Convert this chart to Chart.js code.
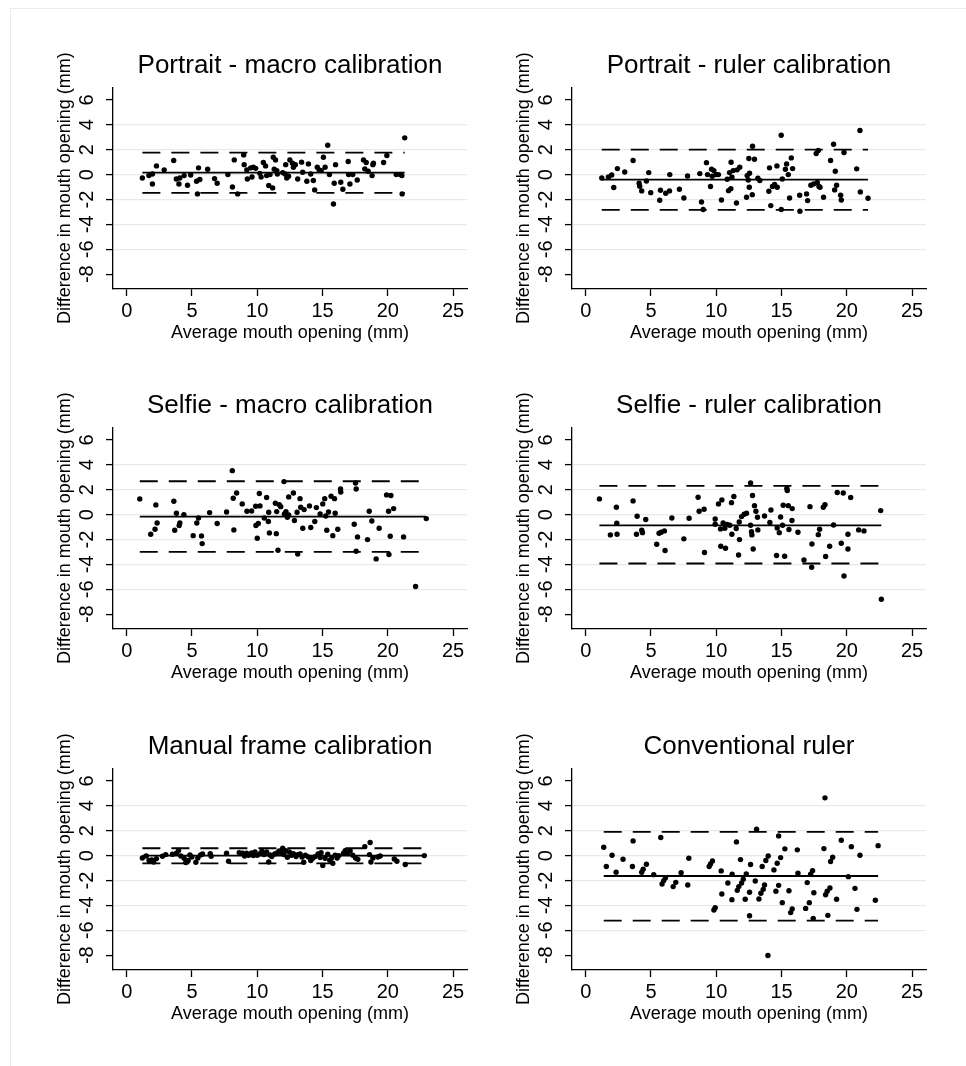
<!DOCTYPE html>
<html>
<head>
<meta charset="utf-8">
<script src="https://cdn.jsdelivr.net/npm/chart.js@4.4.1/dist/chart.umd.min.js"></script>
<style>
  html, body { margin: 0; padding: 0; background: #fff; }
  #page { position: relative; width: 966px; height: 1066px; overflow: hidden; }
  #frame { position: absolute; left: 10px; top: 8px; right: -10px; bottom: -10px;
           border-left: 1.5px solid #e5ecf0; border-top: 1.5px solid #e5ecf0; }
  canvas { position: absolute; }
</style>
</head>
<body>
<div id="page">
  <div id="frame"></div>
  <canvas id="c0" width="455" height="299" style="left:25px;top:50px"></canvas>
  <canvas id="c1" width="455" height="299" style="left:484px;top:50px"></canvas>
  <canvas id="c2" width="455" height="299" style="left:25px;top:390px"></canvas>
  <canvas id="c3" width="455" height="299" style="left:484px;top:390px"></canvas>
  <canvas id="c4" width="455" height="299" style="left:25px;top:731px"></canvas>
  <canvas id="c5" width="455" height="299" style="left:484px;top:731px"></canvas>
</div>
<script>
// [average mouth opening, difference]
const portraitMacro = [
  [1.2,-0.27],[1.7,-0.08],[1.97,0.05],[1.97,-0.75],[2.28,0.7],[2.87,0.38],[3.6,1.13],[3.8,-0.35],[4.0,-0.75],[4.07,-0.27],
  [4.4,-0.08],[4.66,-0.86],[4.9,-0.03],[5.35,-0.54],[5.42,-1.55],[5.5,0.54],[5.6,-0.4],[6.2,0.43],[6.73,-0.32],[6.93,-0.7],
  [7.75,0],[8.1,-1.0],[8.24,1.18],[8.5,-1.55],[8.96,1.58],[9.0,0.8],[9.2,0.38],[9.24,-0.35],[9.5,0.54],[9.6,-0.19],
  [9.7,0.59],[9.88,0.5],[10.2,0.1],[10.3,-0.2],[10.47,0.97],[10.64,0.7],[10.72,-0.08],[10.88,-0.88],[10.98,0],[11.18,-1.07],
  [11.23,1.39],[11.4,1.18],[11.3,0.43],[11.5,0.32],[11.54,0.05],[11.95,0.16],[12.13,0.05],[12.18,0.8],[12.26,-0.27],[12.4,-0.13],
  [12.5,1.18],[12.7,0.91],[12.77,0.59],[12.92,0.8],[13.1,-0.35],[13.4,1.0],[13.48,0.19],[13.8,-0.54],[13.92,0.86],[14.1,0.05],
  [14.3,-0.48],[14.4,-1.23],[14.6,0.59],[14.74,0.38],[14.9,0.32],[15.07,1.39],[15.2,0.59],[15.4,2.36],[15.53,0],[15.84,-2.36],
  [15.9,-0.7],[16.0,0.8],[16.4,-0.62],[16.56,-1.18],[16.97,1.05],[17.0,0],[17.1,-0.75],[17.32,0],[17.66,-0.43],[18.14,1.18],
  [18.24,0.46],[18.35,0.97],[18.5,0.27],[18.8,-0.08],[18.86,0.8],[18.9,0.91],[19.68,0.97],[19.93,1.53],[20.65,0],[20.96,0],
  [21.1,-1.55],[21.3,2.95],[21.08,-0.08]
];
const portraitRuler = [
  [1.23,-0.27],[1.74,-0.19],[1.99,-0.03],[2.15,-1.04],[2.43,0.48],[2.99,0.21],[3.63,1.13],[4.09,-0.7],[4.14,-0.94],[4.29,-1.31],
  [4.65,-0.51],[4.83,0.16],[4.98,-1.45],[5.67,-2.06],[5.73,-1.26],[6.13,-1.5],[6.42,-1.31],[6.44,0],[7.18,-1.18],[7.52,-1.88],
  [7.8,-0.11],[8.74,0.08],[8.87,-2.2],[9.0,-2.81],[9.25,0.96],[9.33,0],[9.56,-0.96],[9.64,0.43],[9.69,-0.13],[9.82,0.32],
  [9.99,0],[10.17,0],[10.4,-2.04],[10.84,-0.38],[10.94,-1.29],[11.02,0.16],[11.12,-1.13],[11.14,0.99],[11.2,-0.21],[11.3,0.32],
  [11.55,-2.28],[11.6,0.38],[11.8,0.59],[12.32,-1.82],[12.37,-0.08],[12.45,-0.43],[12.5,1.29],[12.53,-1.02],[12.55,0.11],[12.76,-1.61],
  [12.78,2.28],[12.93,1.23],[13.19,-0.29],[13.34,-0.48],[14.03,-1.34],[14.08,0.54],[14.18,-2.49],[14.31,-0.96],[14.47,-0.8],[14.65,0.7],
  [14.67,-1.02],[14.98,3.16],[14.98,-2.81],[15.06,-0.35],[15.3,0.43],[15.39,0.86],[15.52,0],[15.62,-1.88],[15.75,1.34],[15.85,0.48],
  [16.39,-1.66],[16.41,-2.95],[16.92,-1.55],[17.0,-2.09],[17.25,-0.86],[17.46,-0.75],[17.66,1.69],[17.74,-0.64],[17.82,1.93],[17.87,-0.96],
  [17.95,-1.02],[18.22,-1.82],[18.76,1.13],[18.99,2.44],[19.07,-1.23],[19.12,0.27],[19.22,-0.86],[19.53,-1.66],[19.58,-2.04],[19.79,1.77],
  [20.76,0.46],[21.01,3.54],[21.04,-1.39],[21.63,-1.9]
];
const selfieMacro = [
  [1.0,1.26],[1.84,-1.58],[2.17,-1.18],[2.23,0.78],[2.33,-0.67],[3.61,1.07],[3.68,-1.26],[3.81,0.11],[4.02,-0.88],[4.07,-0.67],
  [4.38,0],[5.09,-1.69],[5.37,-0.67],[5.5,-0.27],[5.73,-1.71],[5.78,-2.33],[6.35,0.16],[6.93,-0.72],[7.65,0.21],[8.09,3.53],
  [8.16,1.31],[8.21,-1.23],[8.42,1.74],[8.85,0.86],[9.21,0.27],[9.57,0.29],[9.88,0.67],[9.9,-0.88],[10.0,-1.9],[10.08,-0.72],
  [10.16,1.69],[10.21,0.7],[10.54,-0.27],[10.72,1.37],[10.85,-0.56],[10.88,0.19],[10.93,-1.47],[11.39,0.91],[11.46,-1.53],[11.49,0.24],
  [11.59,-2.86],[11.69,0.8],[11.8,0.64],[12.05,2.65],[12.08,0.05],[12.2,0.24],[12.31,-0.21],[12.41,-0.03],[12.41,1.42],[12.77,1.74],
  [12.85,-0.48],[13.05,0.19],[13.1,-3.16],[13.28,1.28],[13.33,0.59],[13.49,-1.1],[13.59,0.4],[14.0,0.7],[14.1,-1.04],[14.41,-0.56],
  [14.53,0.56],[14.82,0.05],[15.02,0.86],[15.17,1.28],[15.25,-0.11],[15.33,-1.26],[15.46,0.21],[15.66,1.47],[15.79,-1.69],[15.92,1.28],
  [15.97,0.11],[16.17,-1.18],[16.38,2.06],[16.4,1.82],[17.43,-0.78],[17.53,2.54],[17.58,2.06],[17.58,-2.94],[17.68,-1.79],[18.45,-2.01],
  [18.58,0.27],[18.78,-0.51],[19.11,-3.56],[19.34,-1.1],[19.91,1.58],[20.06,0.27],[20.09,-3.21],[20.19,-1.74],[20.24,1.53],[20.45,0.48],
  [21.21,-1.79],[22.13,-5.78],[22.95,-0.32]
];
const selfieRuler = [
  [1.05,1.26],[1.89,-1.63],[2.35,0.59],[2.38,-0.7],[2.4,-1.58],[3.63,1.1],[3.94,-0.13],[3.89,-1.58],[4.29,-1.26],[4.35,-1.45],
  [4.6,-0.4],[5.44,-2.38],[5.62,-1.5],[5.78,-1.42],[6.03,-1.31],[6.08,-2.89],[6.6,-0.27],[7.52,-1.95],[7.92,-0.29],[8.61,1.39],
  [8.69,0.27],[9.1,-3.05],[9.07,0.43],[9.92,-0.35],[9.92,-0.78],[10.17,0.86],[10.33,-1.15],[10.35,-2.54],[10.43,1.18],[10.53,-0.67],
  [10.66,-1.1],[10.71,-2.7],[10.84,-0.8],[11.04,-0.86],[11.17,0.96],[11.2,-1.58],[11.35,1.45],[11.53,-1.12],[11.71,-3.24],[11.76,-0.59],
  [11.78,-2.01],[11.94,-0.16],[12.14,0.03],[12.32,0.11],[12.63,2.54],[12.63,-0.86],[12.7,-1.37],[12.73,-1.63],[12.78,1.53],[12.83,-2.76],
  [12.93,0.72],[13.04,0.27],[13.16,-0.21],[13.19,-1.23],[13.7,-0.11],[14.11,-0.64],[14.19,0.37],[14.62,-3.29],[14.67,-1.07],[14.83,-1.45],
  [14.93,-0.19],[15.08,-0.86],[15.13,0.75],[15.24,-3.35],[15.41,2.11],[15.44,1.93],[15.52,0.72],[15.57,-1.2],[15.8,-0.48],[15.82,0.48],
  [16.26,-1.42],[16.72,-3.64],[17.18,0.64],[17.31,-4.23],[17.33,-2.36],[17.82,-1.61],[17.92,-1.18],[18.2,0.59],[18.33,0.8],[18.38,-3.37],
  [18.69,-2.54],[18.99,-0.83],[19.27,1.77],[19.58,-2.3],[19.73,1.74],[19.79,-4.93],[20.09,-1.58],[20.09,-2.76],[20.3,1.37],[20.91,-1.23],
  [21.32,-1.31],[22.6,0.32],[22.65,-6.8]
];
const manualFrame = [
  [1.2,-0.19],[1.5,-0.03],[1.71,-0.4],[1.92,-0.35],[2.07,-0.51],[2.28,-0.24],[2.74,-0.05],[2.99,0.08],[3.5,0.11],[3.81,0.19],
  [3.97,0.4],[4.15,-0.03],[4.4,-0.21],[4.53,-0.56],[4.71,-0.4],[4.84,0.05],[4.99,-0.11],[5.3,-0.54],[5.45,-0.19],[5.66,0.05],
  [5.81,0.13],[6.4,0.16],[6.47,-0.05],[7.65,0.19],[7.8,-0.46],[8.62,0.24],[8.88,0.19],[9.03,-0.03],[9.19,0.19],[9.34,0.03],
  [9.57,0.21],[9.7,0],[9.83,0.29],[10.0,0.03],[10.21,0.16],[10.36,0.35],[10.52,0.08],[10.72,0.29],[10.88,-0.51],[10.98,0.05],
  [11.11,-0.08],[11.34,0.13],[11.49,0.19],[11.67,0.38],[11.82,0.24],[11.95,0.59],[12.05,0.08],[12.18,0.4],[12.31,-0.13],[12.46,0.29],
  [12.62,0.03],[12.77,0.16],[12.97,-0.08],[13.1,0.08],[13.28,0.13],[13.43,-0.11],[13.56,-0.54],[13.69,0.03],[13.92,-0.11],[14.1,-0.4],
  [14.25,-0.21],[14.43,-0.08],[14.66,0.13],[14.82,-0.16],[14.89,0.24],[15.02,-0.8],[15.2,-0.21],[15.4,0.11],[15.56,-0.38],[15.69,-0.19],
  [15.79,-0.62],[15.97,0.03],[16.12,-0.19],[16.25,0],[16.61,0.19],[16.74,0.4],[16.91,0.16],[17.12,0.38],[17.32,0.03],[17.53,-0.19],
  [17.71,-0.3],[18.24,0.72],[18.65,1.05],[18.6,0.08],[18.71,-0.51],[18.86,-0.19],[19.24,-0.11],[19.42,-0.03],[20.5,-0.27],[20.7,-0.46],
  [21.34,-0.72],[22.8,0]
];
const conventionalRuler = [
  [1.38,0.67],[1.58,-0.88],[2.02,0.03],[2.33,-1.34],[2.86,-0.29],[3.58,-0.88],[3.63,1.18],[4.29,-1.34],[4.4,-1.1],[4.65,-0.7],
  [5.21,-1.53],[5.75,1.45],[5.85,-2.28],[5.98,-2.01],[6.11,-1.77],[6.7,-2.49],[6.9,-2.15],[7.31,-1.37],[7.82,-2.36],[7.9,-0.21],
  [9.46,-0.88],[9.56,-0.67],[9.71,-0.43],[9.82,-4.37],[9.92,-4.18],[10.38,-1.23],[10.43,-3.08],[10.89,-2.2],[11.22,-1.5],[11.2,-3.54],
  [11.55,1.1],[11.61,-2.79],[11.73,-2.49],[11.86,-0.32],[11.94,-2.2],[12.07,-1.9],[12.22,-3.51],[12.3,-1.47],[12.55,-2.95],[12.55,-4.83],
  [12.63,-0.72],[12.99,-2.04],[13.09,2.12],[13.27,-3.49],[13.42,-3.03],[13.52,-0.88],[13.6,-2.71],[13.7,-2.36],[13.8,-0.4],[13.96,-8.02],
  [13.98,-0.03],[14.42,-1.15],[14.57,-2.87],[14.67,-0.62],[14.78,1.58],[14.78,-2.39],[14.93,-0.16],[15.06,-3.78],[15.26,0.54],[15.57,-2.82],
  [15.7,-4.58],[15.82,-4.29],[16.21,0.46],[16.26,-1.42],[16.85,-4.24],[16.97,-2.17],[17.13,-3.78],[17.23,-1.5],[17.38,-1.21],[17.43,-5.04],
  [17.48,-2.98],[18.25,0.56],[18.33,4.64],[18.38,-3.14],[18.5,-2.87],[18.55,-4.8],[18.71,-2.6],[18.76,-0.48],[18.92,-0.13],[19.22,-3.51],
  [19.58,1.23],[20.12,-1.69],[20.35,0.72],[20.63,-2.63],[20.78,-4.32],[21.01,0.03],[22.19,-3.59],[22.4,0.8]
];

const panelTitles = ['Portrait - macro calibration', 'Portrait - ruler calibration',
  'Selfie - macro calibration', 'Selfie - ruler calibration',
  'Manual frame calibration', 'Conventional ruler'];
const panelData = [portraitMacro, portraitRuler, selfieMacro, selfieRuler, manualFrame, conventionalRuler];
const meanDiff   = [0.16, -0.40, -0.16, -0.86, 0.00, -1.64];
const upperLimit = [1.77, 2.00, 2.68, 2.30, 0.59, 1.90];
const lowerLimit = [-1.47, -2.84, -3.00, -3.93, -0.62, -5.23];
const xTicks = [0, 5, 10, 15, 20, 25];
const yTicks = [-8, -6, -4, -2, 0, 2, 4, 6];

Chart.defaults.font.family = '"Liberation Sans", Arial, sans-serif';
Chart.defaults.color = '#000';

function hline(pts, value, dash) {
  const xs = pts.map(p => p[0]);
  return {
    data: [{x: Math.min(...xs), y: value}, {x: Math.max(...xs), y: value}],
    showLine: true, pointRadius: 0, borderColor: '#000', borderWidth: 1.8,
    borderDash: dash, fill: false
  };
}

function buildPanel(i) {
  const pts = panelData[i];
  const ctx = document.getElementById('c' + i).getContext('2d');
  new Chart(ctx, {
    type: 'scatter',
    data: {
      datasets: [
        { data: pts.map(p => ({x: p[0], y: p[1]})), pointRadius: 2.7,
          backgroundColor: '#000', borderWidth: 0 },
        hline(pts, meanDiff[i], []),
        hline(pts, upperLimit[i], [18, 11]),
        hline(pts, lowerLimit[i], [18, 11])
      ]
    },
    options: {
      responsive: false,
      animation: false,
      events: [],
      layout: { padding: { left: 0, right: 13, top: 0, bottom: 0 } },
      plugins: {
        legend: { display: false },
        tooltip: { enabled: false },
        title: { display: true, text: panelTitles[i], fullSize: false,
                 font: { size: 26, weight: 'normal' }, color: '#000',
                 padding: { top: 0, bottom: 6 } }
      },
      scales: {
        x: {
          type: 'linear', min: -1.05, max: 26.07,
          afterBuildTicks: s => { s.ticks = xTicks.map(v => ({value: v})); },
          afterFit: s => { s.height = 60; },
          grid: { drawOnChartArea: false, drawTicks: true, tickLength: 7,
                  tickColor: '#000', tickWidth: 1.3 },
          border: { display: true, color: '#000', width: 1.3 },
          ticks: { font: { size: 20 }, color: '#000', padding: 3, maxRotation: 0,
                   callback: v => String(v) },
          title: { display: true, text: 'Average mouth opening (mm)', color: '#000',
                   font: { size: 18 }, padding: { top: 0, bottom: 5 } }
        },
        y: {
          type: 'linear', min: -9.19, max: 7.02,
          afterBuildTicks: s => { s.ticks = yTicks.map(v => ({value: v})); },
          afterFit: s => { s.width = 88; },
          grid: {
            color: c => (c.tick && (c.tick.value === yTicks[0] || c.tick.value === yTicks[yTicks.length - 1]))
              ? 'rgba(0,0,0,0)' : '#e9e9e9',
            lineWidth: 1.2, drawTicks: true, tickLength: 7,
            tickColor: '#000', tickWidth: 1.3
          },
          border: { display: true, color: '#000', width: 1.3 },
          ticks: { font: { size: 20 }, color: '#000', minRotation: 90, maxRotation: 90,
                   crossAlign: 'center', padding: 10, callback: v => String(v) },
          title: { display: true, text: 'Difference in mouth opening (mm)', color: '#000',
                   font: { size: 18 }, padding: { top: 29, bottom: 0 } }
        }
      }
    }
  });
}

for (let i = 0; i < panelData.length; i++) buildPanel(i);
</script>
</body>
</html>
